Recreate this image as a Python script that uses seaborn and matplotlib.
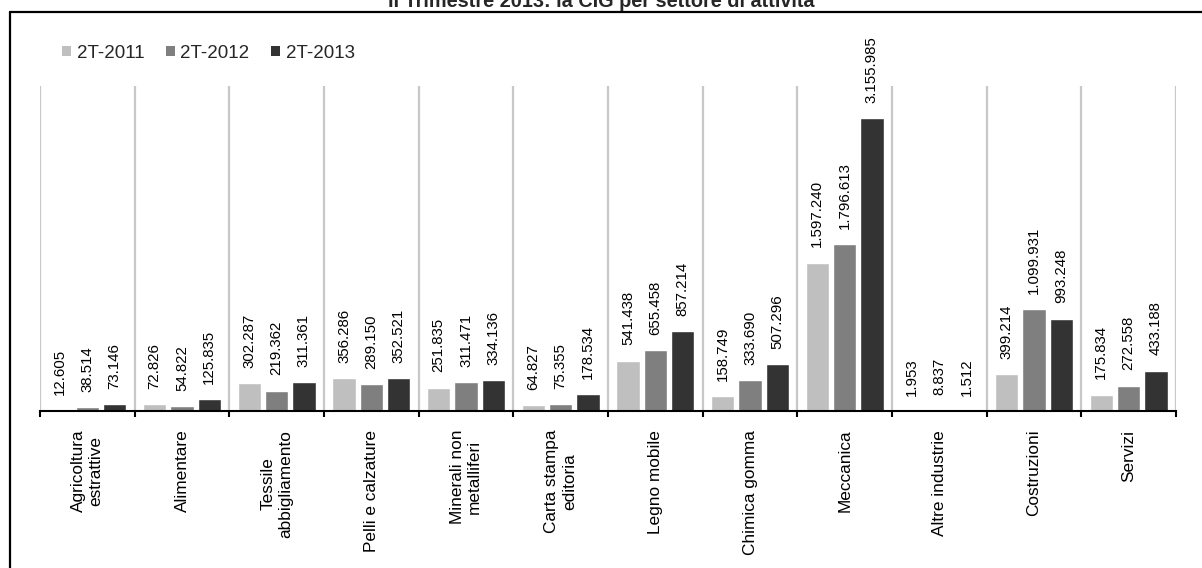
import numpy as np
import pandas as pd
import seaborn as sns
import matplotlib
matplotlib.use("Agg")
import matplotlib.pyplot as plt
from matplotlib.patches import Patch
from matplotlib.lines import Line2D

# Ore di CIG autorizzate nel II trimestre, per settore
settori = ["Agricoltura\nestrattive", "Alimentare", "Tessile\nabbigliamento",
           "Pelli e calzature", "Minerali non\nmetalliferi", "Carta stampa\neditoria",
           "Legno mobile", "Chimica gomma", "Meccanica", "Altre industrie",
           "Costruzioni", "Servizi"]
periodi = ["2T-2011", "2T-2012", "2T-2013"]
ore_2011 = [12605, 72826, 302287, 356286, 251835, 64827, 541438, 158749,
            1597240, 1953, 399214, 175834]
ore_2012 = [38514, 54822, 219362, 289150, 311471, 75355, 655458, 333690,
            1796613, 8837, 1099931, 272558]
ore_2013 = [73146, 125835, 311361, 352521, 334136, 178534, 857214, 507296,
            3155985, 1512, 993248, 433188]
colori = ["#bfbfbf", "#7f7f7f", "#333333"]

df = pd.DataFrame({
    "settore": settori * 3,
    "periodo": np.repeat(periodi, len(settori)),
    "ore": ore_2011 + ore_2012 + ore_2013,
})

sns.set_theme(style="white")
plt.rcParams["font.family"] = ["Liberation Sans", "DejaVu Sans"]

W, H = 1202, 568
fig = plt.figure(figsize=(W / 100, H / 100), dpi=100)
ax = fig.add_axes([40 / W, 1 - 411 / H, (1176 - 40) / W, (411 - 86) / H])

sns.barplot(data=df, x="settore", y="ore", hue="periodo", order=settori,
            hue_order=periodi, palette=colori, saturation=1, width=0.865,
            gap=0.15, legend=False, ax=ax)

def it_fmt(v):
    return f"{v:,}".replace(",", ".")

for cont, vals in zip(ax.containers, [ore_2011, ore_2012, ore_2013]):
    ax.bar_label(cont, labels=[it_fmt(v) for v in vals], rotation=90,
                 padding=11, fontsize=10.8, color="black", clip_on=False)

ax.set_xlim(-0.5, len(settori) - 0.5)
ax.set_ylim(0, 3.5e6)
ax.set_yticks([])
ax.set_xlabel("")
ax.set_ylabel("")

# category separators: minor ticks with light vertical grid
ax.set_xticks(np.arange(-0.5, len(settori)), minor=True)
ax.grid(False)
ax.grid(True, axis="x", which="minor", color="#c8c8c8", linewidth=1.6)
ax.set_xticks(np.arange(len(settori)))
ax.set_xticklabels(settori, rotation=90, fontsize=12.4, linespacing=1.2)
ax.tick_params(axis="x", which="major", length=0, pad=13.5, colors="black")
ax.tick_params(axis="x", which="minor", length=4, width=1.5, color="black",
               direction="out", bottom=True)

for side in ["left", "right", "top"]:
    ax.spines[side].set_visible(False)
ax.spines["bottom"].set_color("black")
ax.spines["bottom"].set_linewidth(1.5)

handles = [Patch(facecolor=c, edgecolor="none") for c in colori]
fig.legend(handles, periodi, loc="center left",
           bbox_to_anchor=(62 / W, 1 - 53 / H), ncol=3, frameon=False,
           fontsize=13.5, handlelength=0.48, handleheight=0.48,
           handletextpad=0.3, columnspacing=1.15, borderpad=0,
           borderaxespad=0)

fig.text(0.5, 1 - 7 / H, "II Trimestre 2013: la CIG per settore di attività",
         ha="center", va="baseline", fontsize=14.3, fontweight="bold")

# outer frame (left and top edges)
fig.add_artist(Line2D([10 / W, 10 / W], [-0.01, 1 - 12 / H],
                      transform=fig.transFigure, color="black", linewidth=1.6))
fig.add_artist(Line2D([10 / W, 1.01], [1 - 12 / H, 1 - 12 / H],
                      transform=fig.transFigure, color="black", linewidth=1.6))

fig.savefig("out.png", dpi=100)
